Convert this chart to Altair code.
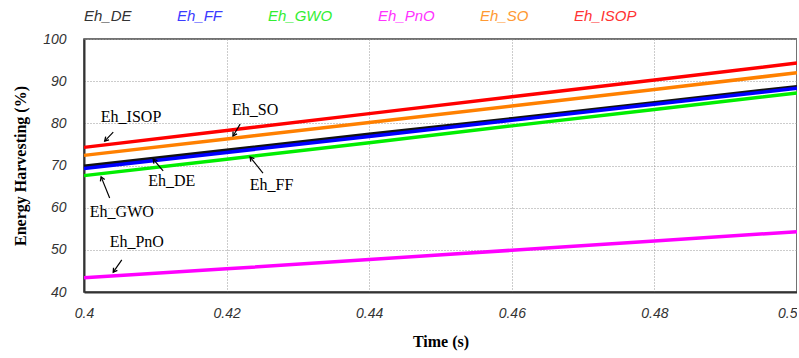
import math
import altair as alt
import pandas as pd

# ---- data ----
times = [0.40, 0.42, 0.44, 0.46, 0.48, 0.50]
series = ["Eh_DE", "Eh_FF", "Eh_GWO", "Eh_PnO", "Eh_SO", "Eh_ISOP"]
eh_de = [69.8, 73.6, 77.4, 81.1, 84.9, 88.7]
eh_ff = [69.3, 73.1, 76.9, 80.7, 84.5, 88.3]
eh_gwo = [67.6, 71.5, 75.4, 79.4, 83.3, 87.2]
eh_pno = [43.4, 45.5, 47.7, 49.9, 52.1, 54.3]
eh_so = [72.4, 76.3, 80.2, 84.1, 88.0, 92.0]
eh_isop = [74.3, 78.3, 82.3, 86.3, 90.3, 94.3]

x_ticks = [0.40, 0.42, 0.44, 0.46, 0.48, 0.50]
y_ticks = [40, 50, 60, 70, 80, 90, 100]

# annotation labels (text anchor in data units)
ann_labels = ["Eh_ISOP", "Eh_SO", "Eh_DE", "Eh_FF", "Eh_GWO", "Eh_PnO"]
ann_t = [0.4066, 0.4240, 0.4123, 0.4263, 0.4053, 0.4074]
ann_v = [81.5, 83.2, 66.3, 65.4, 59.0, 51.9]
# arrows: tail -> tip
arr_t1 = [0.4041, 0.4219, 0.4111, 0.4251, 0.4036, 0.4053]
arr_v1 = [77.9, 79.8, 68.7, 68.2, 62.3, 47.6]
arr_t2 = [0.4029, 0.4209, 0.4097, 0.4233, 0.4024, 0.4041]
arr_v2 = [75.8, 77.0, 71.5, 72.0, 67.3, 44.7]

# ---- styles ----
line_colors = ["#111111", "#0000ff", "#00ee00", "#ff00ff", "#ff8000", "#ff0000"]
label_colors = ["#333333", "#3b3bff", "#33ee33", "#ff33ff", "#ff9933", "#ff3333"]
W, H = 713, 253

rows = []
for name, vals in zip(series, [eh_de, eh_ff, eh_gwo, eh_pno, eh_so, eh_isop]):
    for t, v in zip(times, vals):
        rows.append({"s": name, "t": t, "v": v})
df = pd.DataFrame(rows)

ann_df = pd.DataFrame({"label": ann_labels, "t": ann_t, "v": ann_v})

angles = []
for a, b, c, d in zip(arr_t1, arr_v1, arr_t2, arr_v2):
    dx = (c - a) / 0.1 * W
    dy = -(d - b) / 60 * H  # screen y
    ang = math.degrees(math.atan2(dx, -dy)) % 360
    angles.append(ang)
arr_df = pd.DataFrame({"t1": arr_t1, "v1": arr_v1, "t2": arr_t2, "v2": arr_v2, "ang": angles})

color_expr = " : ".join(
    [f"datum.value == '{s}' ? '{c}'" for s, c in zip(series, label_colors)]
) + " : '#333333'"

xscale = alt.Scale(domain=[0.4, 0.5], nice=False, zero=False)
yscale = alt.Scale(domain=[40, 100], nice=False, zero=False)

lines = alt.Chart(df).mark_line(strokeWidth=3.5).encode(
    x=alt.X("t:Q", scale=xscale,
            axis=alt.Axis(values=x_ticks, format=".2~f", title="Time (s)",
                          labelPadding=14, titlePadding=13,
                          labelAlign=alt.ExprRef("datum.value >= 0.5 ? 'right' : 'center'"))),
    y=alt.Y("v:Q", scale=yscale,
            axis=alt.Axis(values=y_ticks, title="Energy Harvesting (%)",
                          labelPadding=18, titlePadding=14)),
    color=alt.Color("s:N", scale=alt.Scale(domain=series, range=line_colors), sort=series,
                    legend=alt.Legend(title=None, orient="none", legendX=-15, legendY=-31,
                                      direction="horizontal", symbolSize=0, symbolOpacity=0,
                                      symbolStrokeWidth=0, labelOffset=0, columnPadding=30,
                                      labelFont="Liberation Sans", labelFontSize=15,
                                      labelFontStyle="italic", labelLimit=0,
                                      labelColor=alt.ExprRef(color_expr))),
)

texts = alt.Chart(ann_df).mark_text(font="Liberation Serif", fontSize=16, color="black",
                                    align="center", baseline="middle").encode(
    x="t:Q", y="v:Q", text="label:N")

rules = alt.Chart(arr_df).mark_rule(color="black", strokeWidth=1.2).encode(
    x="t1:Q", y="v1:Q", x2="t2:Q", y2="v2:Q")

heads = alt.Chart(arr_df).mark_point(shape="M-0.6,1L0,0L0.6,1", filled=False, size=60,
                                     color="black", strokeWidth=1.3, opacity=1).encode(
    x="t2:Q", y="v2:Q", angle=alt.Angle("ang:Q", scale=None))

chart = alt.layer(lines, rules, heads, texts).properties(
    width=W, height=H,
    autosize=alt.AutoSizeParams(type="none"),
    padding={"left": 84, "top": 39, "right": 0, "bottom": 66},
).configure_view(stroke="#444444", strokeWidth=1.5).configure_axis(
    labelFont="Liberation Sans", labelFontStyle="italic", labelFontSize=14, labelColor="#333333",
    titleFont="Liberation Serif", titleFontWeight="bold", titleFontSize=16, titleColor="black",
    domainColor="#333333", domainWidth=2, gridColor="#999999", gridDash=[1, 2], gridWidth=1,
    ticks=False,
)

chart.save("out.html", embed_options={"renderer": "svg", "actions": False})
